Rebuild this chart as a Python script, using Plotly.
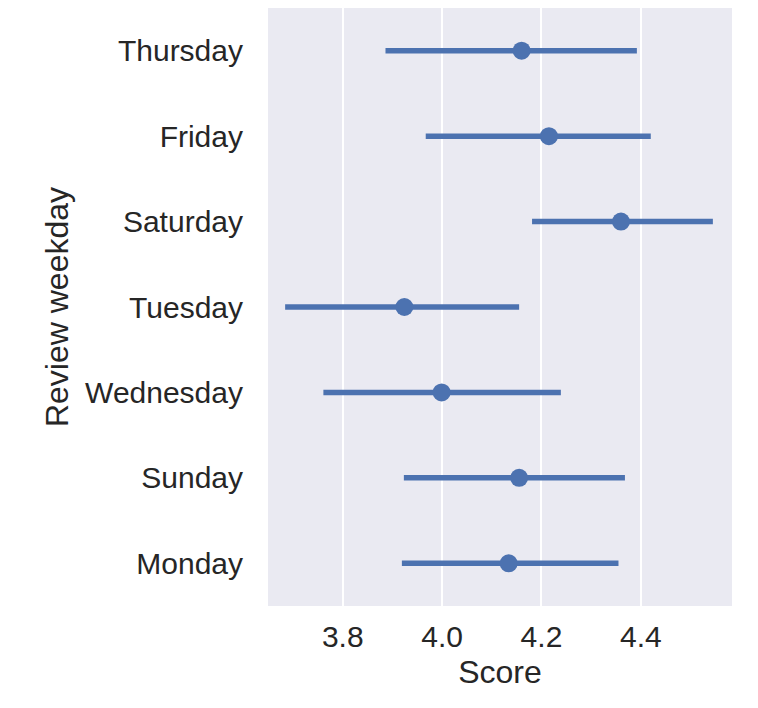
import plotly.graph_objects as go

# review score by weekday: mean with 95% CI bounds
weekdays = ["Thursday", "Friday", "Saturday", "Tuesday", "Wednesday", "Sunday", "Monday"]
score_mean = [4.160, 4.215, 4.360, 3.924, 3.999, 4.155, 4.134]
ci_low = [3.886, 3.967, 4.181, 3.684, 3.761, 3.923, 3.919]
ci_high = [4.392, 4.420, 4.545, 4.155, 4.239, 4.368, 4.355]

x_ticks = [3.8, 4.0, 4.2, 4.4]

BLUE = "#4C72B0"
TEXT = "#262626"
FONT = "Liberation Sans, Arial, sans-serif"

err_plus = [h - m for h, m in zip(ci_high, score_mean)]
err_minus = [m - l for m, l in zip(score_mean, ci_low)]

fig = go.Figure()
fig.add_trace(go.Scatter(
    x=score_mean, y=weekdays, mode="markers",
    marker=dict(color=BLUE, size=18),
    error_x=dict(type="data", array=err_plus, arrayminus=err_minus,
                 color=BLUE, thickness=5.5, width=0),
    showlegend=False,
))

# page body adds an 8px offset, so margins are shifted to compensate
fig.update_layout(
    width=758, height=708,
    margin=dict(l=260, r=34, t=0, b=110),
    paper_bgcolor="white", plot_bgcolor="#EAEAF2",
    font=dict(family=FONT, color=TEXT, size=30),
)
fig.update_xaxes(
    range=[3.6495, 4.5835], tickvals=x_ticks, ticktext=[f"{v:.1f}" for v in x_ticks],
    showgrid=True, gridcolor="white", gridwidth=1.5, zeroline=False,
    ticklabelstandoff=10, tickfont=dict(size=30, color=TEXT),
    title=dict(text="Score", font=dict(size=32, color=TEXT), standoff=8),
)
fig.update_yaxes(
    type="category", categoryorder="array", categoryarray=weekdays,
    range=[6.5, -0.5], showgrid=False, zeroline=False,
    ticklabelstandoff=24, tickfont=dict(size=30, color=TEXT),
    title=dict(text="Review weekday", font=dict(size=32, color=TEXT), standoff=6),
)

fig.write_html("out.html")
